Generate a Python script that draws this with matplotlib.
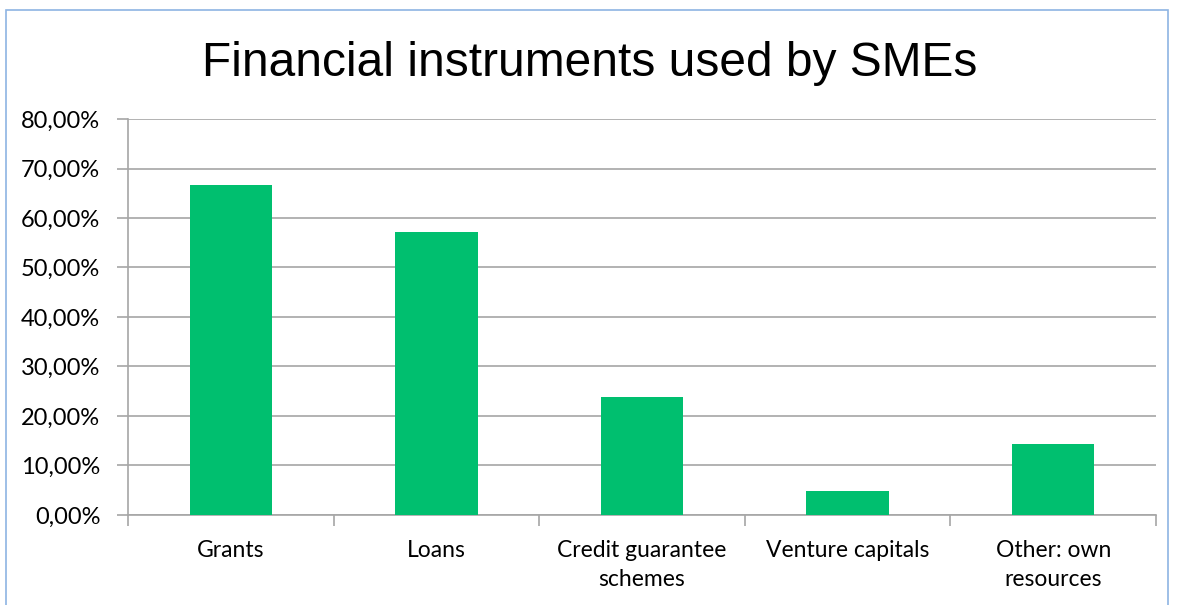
import matplotlib.pyplot as plt
from matplotlib.patches import Rectangle
from matplotlib.ticker import FuncFormatter, FixedLocator

categories = ['Grants', 'Loans', 'Credit guarantee\nschemes', 'Venture capitals', 'Other: own\nresources']
values = [66.67, 57.14, 23.81, 4.76, 14.29]

fig = plt.figure(figsize=(11.79, 6.05), dpi=100)
ax = fig.add_axes([0.1086, 0.1488, 0.8719, 0.6545])

x = range(len(categories))
ax.bar(x, values, width=0.4, color='#00BF6F', zorder=3)

ax.set_xlim(-0.5, len(categories) - 0.5)
ax.set_ylim(0, 80)
ax.set_yticks(range(0, 81, 10))
ax.yaxis.set_major_formatter(FuncFormatter(lambda v, p: f'{v:.2f}%'.replace('.', ',')))
ax.grid(axis='y', color='#A6A6A6', linewidth=1.2, zorder=0)

# category labels at centres, ticks at boundaries
ax.set_xticks(list(x))
ax.set_xticklabels(categories, fontsize=16.5, family='Lato', linespacing=1.5)
ax.tick_params(axis='x', which='major', length=0, pad=18)
ax.xaxis.set_minor_locator(FixedLocator([i - 0.5 for i in range(len(categories) + 1)]))
ax.tick_params(axis='x', which='minor', length=8, color='#A6A6A6', width=1.2)
ax.tick_params(axis='y', length=8, color='#A6A6A6', width=1.2, labelsize=17, pad=12)
for lbl in ax.get_yticklabels():
    lbl.set_family('Lato')

for s in ['top', 'right']:
    ax.spines[s].set_visible(False)
for s in ['left', 'bottom']:
    ax.spines[s].set_color('#A6A6A6')
    ax.spines[s].set_linewidth(1.2)

fig.text(0.5, 0.895, 'Financial instruments used by SMEs', ha='center', va='center',
         fontsize=34.5, family='Liberation Sans')

fig.patches.append(Rectangle((6 / 1179, -0.01), (1168 - 6) / 1179, 1 - 10 / 605 + 0.01,
                             transform=fig.transFigure, fill=False,
                             edgecolor='#8EB4E3', linewidth=1.2))

plt.savefig('out.png', dpi=100)
